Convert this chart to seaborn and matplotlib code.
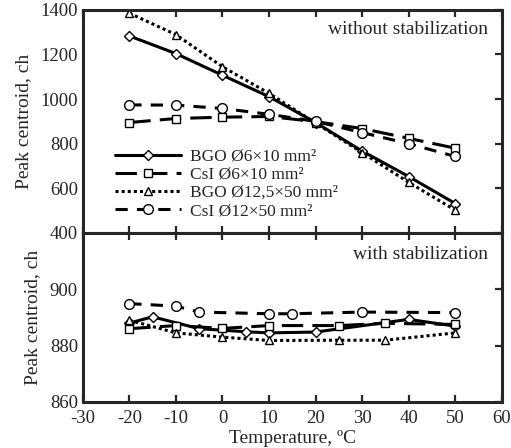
import matplotlib
matplotlib.use("Agg")
import matplotlib.pyplot as plt
import seaborn as sns

# upper panel: without stabilization
temp_top = [-20, -10, 0, 10, 20, 30, 40, 50]
bgo_small_top = [1283, 1204, 1107, 1011, 895, 767, 653, 532]
csi_small_top = [895, 913, 919, 922, 899, 868, 824, 780]
bgo_big_top = [1385, 1289, 1145, 1026, 893, 760, 627, 502]
csi_big_top = [974, 973, 958, 932, 900, 850, 800, 743]

# lower panel: with stabilization
temp_bgo_small = [-20, -15, -5, 5, 10, 20, 40, 50]
bgo_small_bot = [888.0, 890.2, 886.0, 884.9, 884.5, 884.8, 889.3, 886.9]
temp_csi_small = [-20, -10, 0, 10, 25, 35, 50]
csi_small_bot = [886.0, 887.1, 886.1, 887.1, 887.1, 887.9, 887.5]
temp_bgo_big = [-20, -10, 0, 10, 25, 35, 50]
bgo_big_bot = [889.0, 884.5, 883.0, 881.8, 881.9, 881.9, 884.5]
temp_csi_big = [-20, -10, -5, 10, 15, 30, 50]
csi_big_bot = [894.9, 894.0, 891.9, 891.3, 891.3, 891.9, 891.7]

labels = ["BGO Ø6×10 mm²", "CsI Ø6×10 mm²", "BGO Ø12,5×50 mm²", "CsI Ø12×50 mm²"]
styles = [
    dict(linestyle="-", marker="D", markersize=5.5),
    dict(linestyle=(0, (7, 3)), marker="s", markersize=6),
    dict(linestyle=(0, (1, 1)), marker="^", markersize=6),
    dict(linestyle=(0, (4, 3)), marker="o", markersize=7),
]

sns.set_style("ticks")
plt.rcParams["font.family"] = ["Liberation Serif", "DejaVu Serif"]
plt.rcParams["axes.linewidth"] = 2.2
plt.rcParams["axes.unicode_minus"] = False

fig = plt.figure(figsize=(5.11, 4.48), dpi=100)
ax1 = fig.add_axes([0.162, 0.480, 0.820, 0.498])
ax2 = fig.add_axes([0.162, 0.103, 0.820, 0.377])

top_series = [bgo_small_top, csi_small_top, bgo_big_top, csi_big_top]
for vals, lab, st in zip(top_series, labels, styles):
    sns.lineplot(x=temp_top, y=vals, ax=ax1, color="k", lw=2.2, label=lab,
                 markerfacecolor="white", markeredgecolor="k",
                 markeredgewidth=1.0, **st)

bot_series = [(temp_bgo_small, bgo_small_bot), (temp_csi_small, csi_small_bot),
              (temp_bgo_big, bgo_big_bot), (temp_csi_big, csi_big_bot)]
for (xs, vals), st in zip(bot_series, styles):
    sns.lineplot(x=xs, y=vals, ax=ax2, color="k", lw=2.2,
                 markerfacecolor="white", markeredgecolor="k",
                 markeredgewidth=1.0, **st)

for ax in (ax1, ax2):
    ax.set_xlim(-30, 60)
    ax.set_xticks(range(-30, 61, 10))
    ax.tick_params(axis="both", direction="in", length=5, width=1.6,
                   labelsize=13.5, top=True, bottom=True, left=False, right=True)
    ax.tick_params(axis="x", pad=6)
    ax.set_ylabel("Peak centroid, ch", fontsize=14, labelpad=6)

ax1.set_ylim(400, 1400)
ax1.set_yticks(range(400, 1401, 200))
ax1.tick_params(labelbottom=False)
ax2.set_ylim(860, 920)
ax2.set_yticks([860, 880, 900])
ax2.set_xlabel("Temperature, ºC", fontsize=14, labelpad=2)

ax1.text(0.967, 0.91, "without stabilization", transform=ax1.transAxes,
         ha="right", va="center", fontsize=14)
ax2.text(0.967, 0.87, "with stabilization", transform=ax2.transAxes,
         ha="right", va="center", fontsize=14)

ax1.legend(loc="lower left", bbox_to_anchor=(0.06, 0.03), frameon=False,
           fontsize=12.5, handlelength=3.8, numpoints=1, borderaxespad=0,
           labelspacing=0.12, handletextpad=0.5)

fig.savefig("out.png", dpi=100)
